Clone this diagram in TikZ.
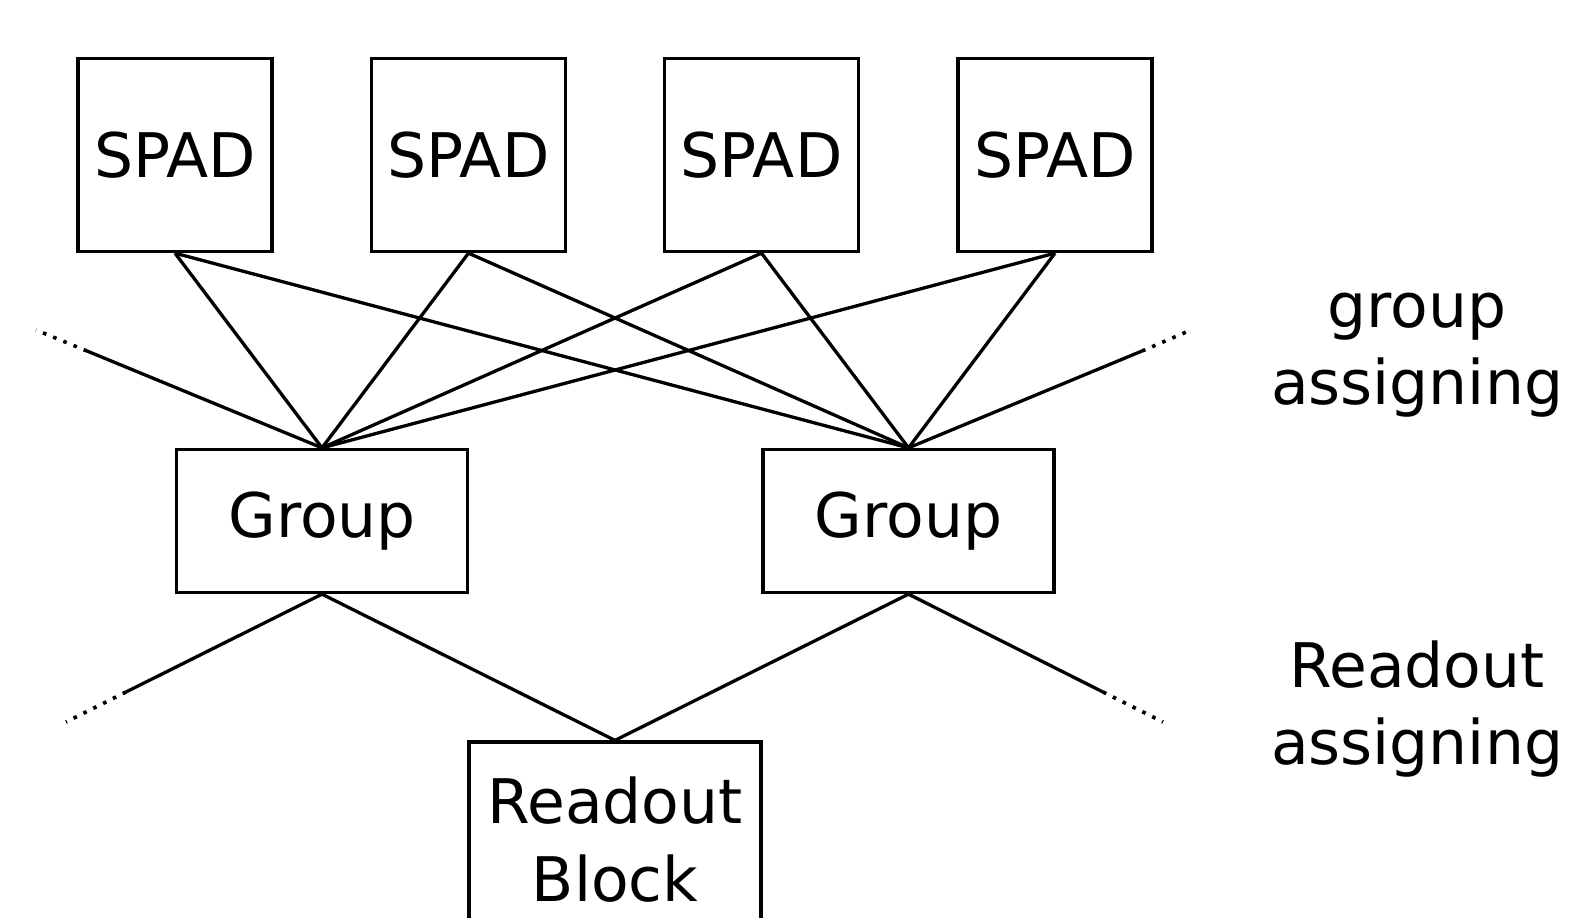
\documentclass[tikz,border=0pt]{standalone}
\usepackage{fontspec}
\setmainfont{DejaVu Sans}
\begin{document}
\begin{tikzpicture}[x=1pt,y=-1pt,
  every node/.style={font=\fontsize{61.5}{78}\selectfont},
  box/.style={draw,line width=3.3pt,inner sep=0pt,align=center},
  spadbox/.style={box,minimum width=194pt,minimum height=193pt},
  groupbox/.style={box,minimum width=291pt,minimum height=143pt},
  readbox/.style={box,minimum width=292pt,minimum height=196pt},
  wire/.style={line width=3.3pt},
  dotwire/.style={line width=3.6pt,dash pattern=on 3.6pt off 7.4pt},
  lab/.style={align=center,inner sep=0pt,font=\fontsize{61.5}{77}\selectfont}]
\clip (0,0) rectangle (1572,918);
\node[spadbox] (s1) at (175,155) {SPAD};
\node[spadbox] (s2) at (468.5,155) {SPAD};
\node[spadbox] (s3) at (761.5,155) {SPAD};
\node[spadbox] (s4) at (1055,155) {SPAD};
\node[groupbox] (g1) at (322,521) {Group};
\node[groupbox] (g2) at (908.5,521) {Group};
\node[readbox] (r) at (615,840) {Readout\\Block};
\node[lab] (l1) at (1417,355) {group\\assigning};
\node[lab] (l2) at (1417,709) {Readout\\assigning};
\coordinate (a1) at (87,351);
\coordinate (a0) at (36,330);
\coordinate (b1) at (1142,351);
\coordinate (b0) at (1191,330);
\coordinate (c1) at (126,692);
\coordinate (c0) at (66,722);
\coordinate (d1) at (1103,692);
\coordinate (d0) at (1163,722);
\foreach \s in {s1,s2,s3,s4}{
  \draw[wire] (\s.south) -- (g1.north);
  \draw[wire] (\s.south) -- (g2.north);
}
\draw[wire] (g1.north) -- (a1);
\draw[dotwire] (a1) -- (a0);
\draw[wire] (g2.north) -- (b1);
\draw[dotwire] (b1) -- (b0);
\draw[wire] (g1.south) -- (r.north);
\draw[wire] (g2.south) -- (r.north);
\draw[wire] (g1.south) -- (c1);
\draw[dotwire] (c1) -- (c0);
\draw[wire] (g2.south) -- (d1);
\draw[dotwire] (d1) -- (d0);
\end{tikzpicture}
\end{document}
